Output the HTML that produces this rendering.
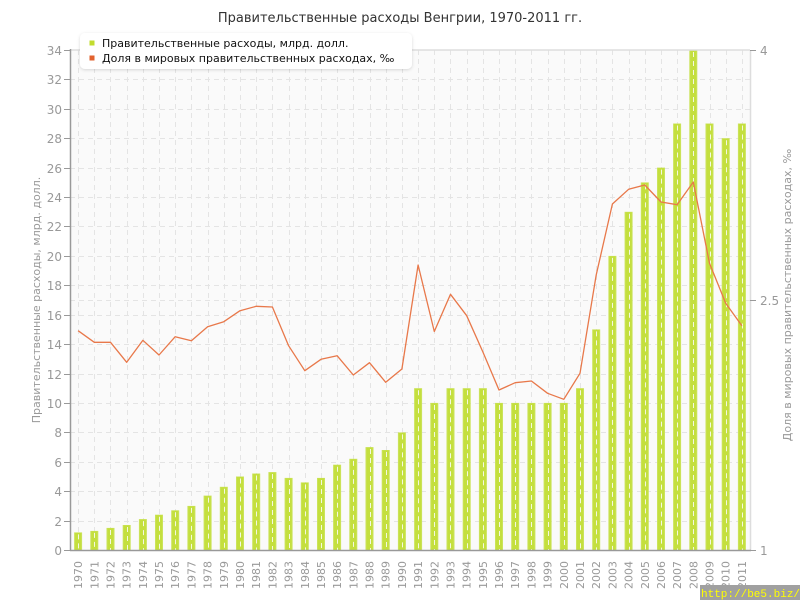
<!DOCTYPE html>
<html><head><meta charset="utf-8"><style>
html,body{margin:0;padding:0;background:#fff;}
svg{display:block;font-family:"DejaVu Sans","Liberation Sans",sans-serif;}
</style></head><body>
<svg width="800" height="600" viewBox="0 0 800 600" xmlns="http://www.w3.org/2000/svg">
<rect x="0" y="0" width="800" height="600" fill="#fff"/>
<text x="400" y="22" text-anchor="middle" font-size="13" fill="#333">Правительственные расходы Венгрии, 1970-2011 гг.</text>
<rect x="70" y="50" width="680" height="500" fill="#fafafa"/>
<g id="grid" stroke="#e4e4e4" stroke-width="1" stroke-dasharray="5,4" fill="none"></g>
<g id="bars"></g>
<g id="bargrid" stroke="#f4f8e0" stroke-width="1" stroke-dasharray="5,4" fill="none"></g>
<line x1="70" y1="50" x2="750" y2="50" stroke="#ddd" stroke-width="1.5"/>
<line x1="750.5" y1="50" x2="750.5" y2="550" stroke="#ddd" stroke-width="1.5"/>
<line x1="70.5" y1="49" x2="70.5" y2="550" stroke="#999" stroke-width="1.5"/>
<line x1="70" y1="550.5" x2="751" y2="550.5" stroke="#999" stroke-width="1.5"/>
<polyline id="line" fill="none" stroke="#e8784a" stroke-width="1.3" stroke-linejoin="round"/>
<g id="ticks" stroke="#999" stroke-width="1"></g>
<g id="labels" font-size="12" fill="#999"></g>
<g id="years" font-size="11" fill="#999"></g>
<text transform="translate(40,300) rotate(-90)" text-anchor="middle" font-size="11" fill="#999">Правительственные расходы, млрд. долл.</text>
<text transform="translate(791,295) rotate(-90)" text-anchor="middle" font-size="11" fill="#999">Доля в мировых правительственных расходах, ‰</text>
<defs><filter id="sh" x="-5%" y="-20%" width="110%" height="150%"><feDropShadow dx="0" dy="1" stdDeviation="1.5" flood-color="#000" flood-opacity="0.15"/></filter></defs>
<rect x="80" y="33" width="332" height="36" rx="5" ry="5" fill="#fff" filter="url(#sh)"/>
<rect x="89.5" y="40.5" width="5" height="5" fill="#c2dc2e"/>
<rect x="89.5" y="55.5" width="5" height="5" fill="#e2622e"/>
<text x="102" y="47" font-size="11" fill="#111">Правительственные расходы, млрд. долл.</text>
<text x="102" y="62" font-size="11" fill="#111">Доля в мировых правительственных расходах, ‰</text>
<rect x="700" y="585" width="100" height="15" fill="#a0a0a0"/>
<text x="701" y="597" font-size="11" fill="#ffff00" font-family="Liberation Mono, monospace">http://be5.biz/</text>
</svg>
<script>
(function(){
var ns="http://www.w3.org/2000/svg";
function el(p,t,a,txt){var e=document.createElementNS(ns,t);for(var k in a)e.setAttribute(k,a[k]);if(txt!==undefined)e.textContent=txt;document.getElementById(p).appendChild(e);return e;}
var vals=[1.2,1.3,1.5,1.7,2.1,2.4,2.7,3.0,3.7,4.3,5.0,5.2,5.3,4.9,4.6,4.9,5.8,6.2,7.0,6.8,8.0,11,10,11,11,11,10,10,10,10,10,11,15,20,23,25,26,29,34,29,28,29];
var ly=[330.7,342.3,342.3,362.3,340.3,355,336.7,340.7,326.7,321.7,310.7,306.3,307,345.7,370.7,359.3,355.7,375,362.7,382.3,369,265,331.5,294.3,315.7,352,390,382.7,381,393.3,399.3,373.3,275,204,189.3,185,202,204.7,182,263.3,303.3,325.7];
var cw=680/42;
function cx(i){return 70+cw*(i+0.5);}
function yv(v){return 550-v*500/34;}
for(var v=2;v<34;v+=2){var y=Math.round(yv(v))+0.5;el("grid","line",{x1:70,y1:y,x2:750,y2:y});}
el("grid","line",{x1:70,y1:300.5,x2:750,y2:300.5});
for(var i=0;i<42;i++){var x=Math.round(cx(i))+0.5;el("grid","line",{x1:x,y1:50,x2:x,y2:550});}
var pts=[];
for(var i=0;i<42;i++){
 var x=cx(i), y=yv(vals[i]);
 el("bars","rect",{x:(x-4).toFixed(1),y:y.toFixed(1),width:8,height:(550-y).toFixed(1),fill:"#cbe35a"});
 el("bars","rect",{x:(x-3).toFixed(1),y:(y+0.5).toFixed(1),width:6,height:(549.5-y).toFixed(1),fill:"#c4df3e"});
 var gx=Math.round(x)+0.5;
 el("bargrid","line",{x1:gx,y1:y+2,x2:gx,y2:550});
 pts.push(x.toFixed(1)+","+ly[i]);
 el("years","text",{transform:"translate("+(x+4).toFixed(1)+",561) rotate(-90)","text-anchor":"end"},String(1970+i));
}
document.getElementById("line").setAttribute("points",pts.join(" "));
for(var v=0;v<=34;v+=2){var y=Math.round(yv(v))+0.5;el("ticks","line",{x1:64,y1:y,x2:70,y2:y});el("labels","text",{x:62,y:y+4.5,"text-anchor":"end"},String(v));}
[[4,50],[2.5,300],[1,550]].forEach(function(p){var y=p[1]+0.5;el("ticks","line",{x1:750,y1:y,x2:756,y2:y});el("labels","text",{x:760,y:y+4.5},String(p[0]));});
})();
</script>
</body></html>
